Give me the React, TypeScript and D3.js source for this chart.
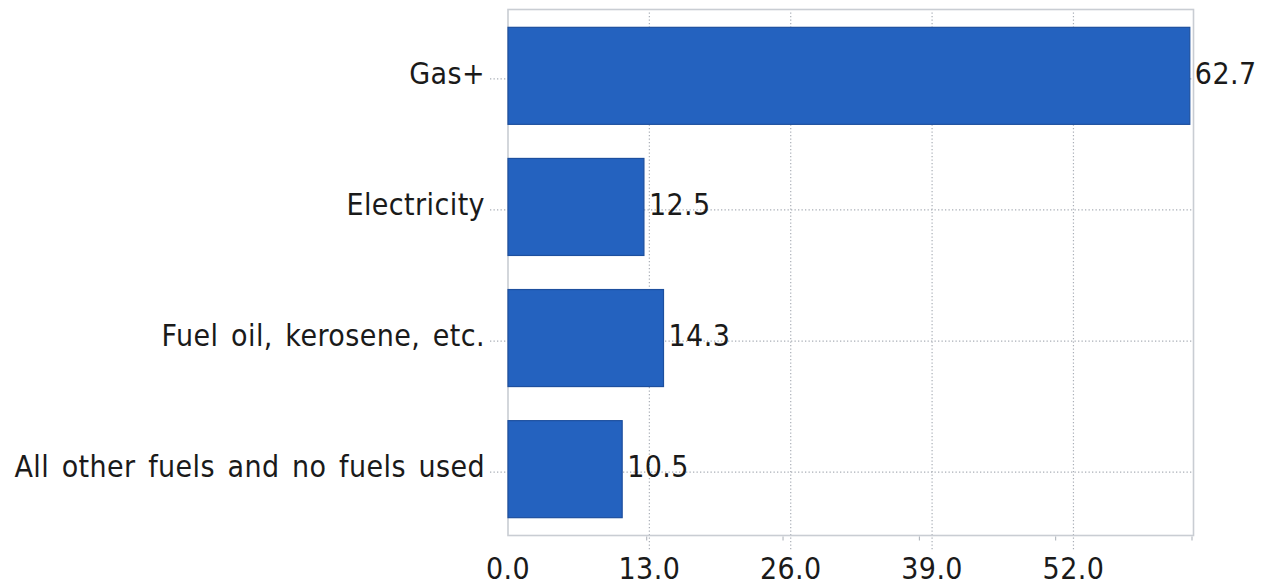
import React from "react";
import * as d3 from "d3";

const categories = ["Gas+", "Electricity", "Fuel oil, kerosene, etc.", "All other fuels and no fuels used"];
const values = [62.7, 12.5, 14.3, 10.5];
const tickValues = [0, 13, 26, 39, 52];
const tickLabels = ["0.0", "13.0", "26.0", "39.0", "52.0"];
const minorTickValues = [13, 26, 39, 52, 65];

const W = 1273;
const H = 585;
const left = 508;
const right = 1193.5;
const top = 9.5;
const bottom = 535.5;
const FONT = "'DejaVu Sans', sans-serif";
const FS = 27;
const VS = 1.09;

function Label(props: {
  x: number;
  y: number;
  anchor?: "start" | "middle" | "end";
  children: React.ReactNode;
}) {
  return (
    <text
      transform={`translate(${props.x},${props.y}) scale(1,${VS})`}
      fontSize={FS}
      fill="#1a1a1a"
      textAnchor={props.anchor || "start"}
      letterSpacing={0.4}
      wordSpacing={3.6}
    >
      {props.children}
    </text>
  );
}

export default function App() {
  const x = d3.scaleLinear().domain([0, 63.04]).range([left, right]);
  const tickX = d3.scaleLinear().domain([0, 65]).range([510.4, 1192]);
  const y = d3
    .scaleBand<string>()
    .domain(categories)
    .range([top, bottom])
    .paddingInner(0.26)
    .paddingOuter(0.136);
  const bw = y.bandwidth();
  const gridY = (c: string) => (y(c) as number) + bw / 2 + 3;
  const gridColor = "#a9aeb6";

  return (
    <svg
      width={W}
      height={H}
      style={{ position: "absolute", left: 0, top: 0, background: "#fff" }}
      fontFamily={FONT}
    >
      <rect x={0} y={0} width={W} height={H} fill="#fff" />
      {tickValues.slice(1).map((v) => (
        <line
          key={"vg" + v}
          x1={x(v)}
          x2={x(v)}
          y1={top + 3}
          y2={550}
          stroke={gridColor}
          strokeWidth={1.2}
          strokeDasharray="1.3,2.2"
        />
      ))}
      {categories.map((c) => (
        <line
          key={"hg" + c}
          x1={490}
          x2={right}
          y1={gridY(c)}
          y2={gridY(c)}
          stroke={gridColor}
          strokeWidth={1.2}
          strokeDasharray="1.3,2.2"
        />
      ))}
      <rect
        x={left}
        y={top}
        width={right - left}
        height={bottom - top}
        fill="none"
        stroke="#c9cdd3"
        strokeWidth={1.6}
      />
      {minorTickValues.map((v) => (
        <line
          key={"mt" + v}
          x1={tickX(v)}
          x2={tickX(v)}
          y1={bottom + 1}
          y2={bottom + 5}
          stroke={gridColor}
          strokeWidth={1}
        />
      ))}
      {categories.map((c, i) => (
        <rect
          key={"b" + c}
          x={x(0)}
          y={y(c)}
          width={x(values[i]) - x(0)}
          height={bw}
          fill="#2462bf"
          stroke="#1d4f9e"
          strokeWidth={1.2}
        />
      ))}
      {categories.map((c, i) => (
        <Label key={"v" + c} x={x(values[i]) + 5} y={gridY(c) + 5}>
          {values[i].toFixed(1)}
        </Label>
      ))}
      {categories.map((c) => (
        <Label key={"c" + c} x={485} y={gridY(c) + 5} anchor="end">
          {c}
        </Label>
      ))}
      {tickValues.map((v, i) => (
        <Label key={"t" + v} x={x(v)} y={579} anchor="middle">
          {tickLabels[i]}
        </Label>
      ))}
    </svg>
  );
}
